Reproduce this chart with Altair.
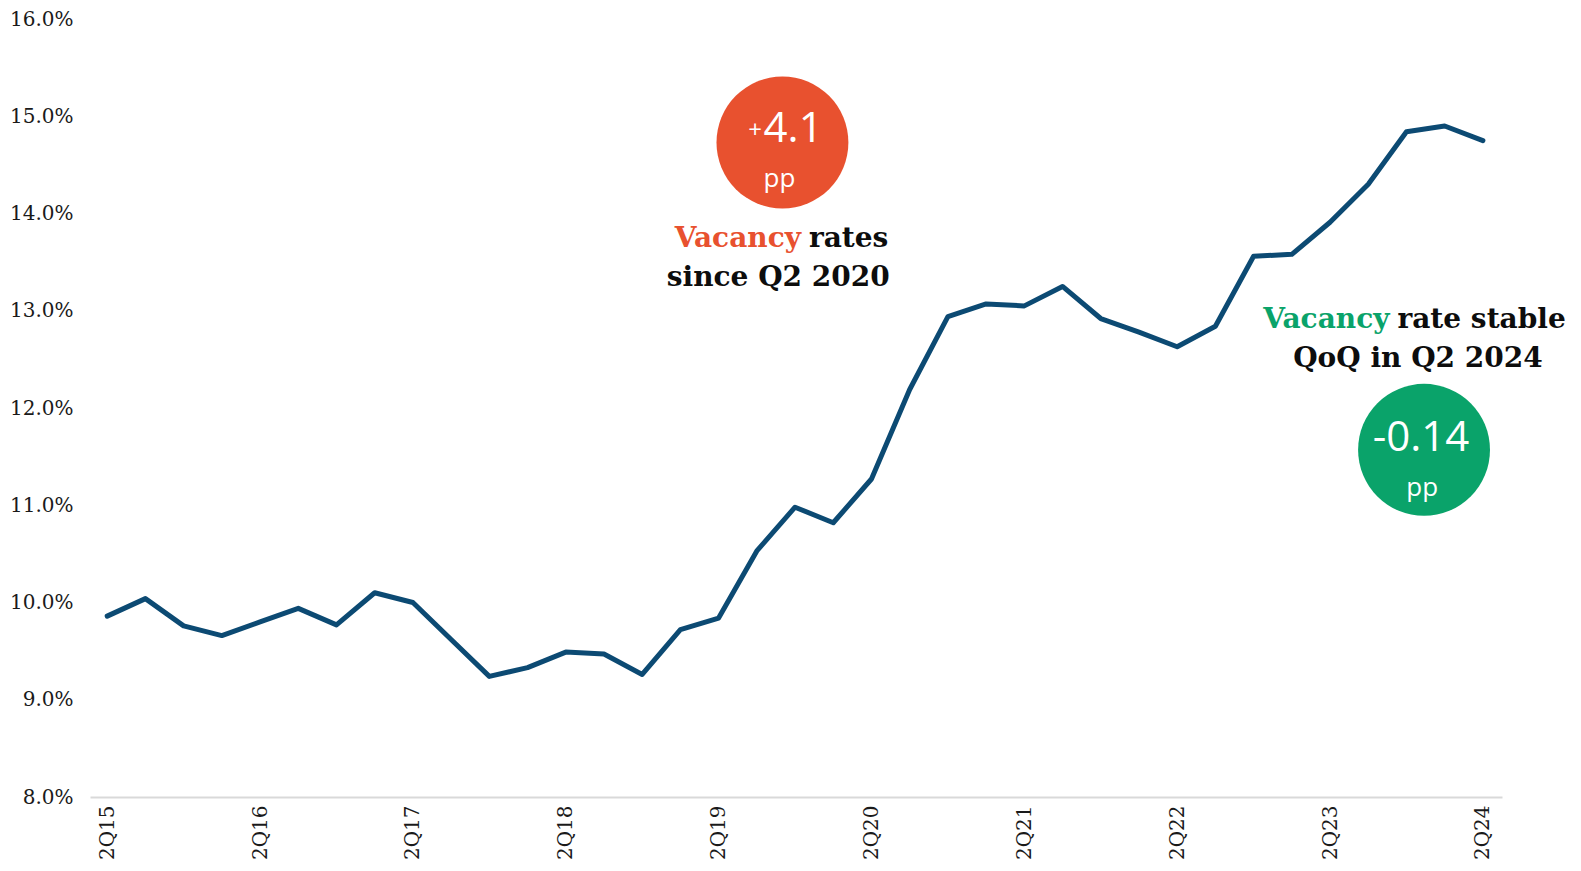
import altair as alt
import pandas as pd

quarters = ["2Q15", "3Q15", "4Q15", "1Q16", "2Q16", "3Q16", "4Q16", "1Q17", "2Q17",
            "3Q17", "4Q17", "1Q18", "2Q18", "3Q18", "4Q18", "1Q19", "2Q19", "3Q19",
            "4Q19", "1Q20", "2Q20", "3Q20", "4Q20", "1Q21", "2Q21", "3Q21", "4Q21",
            "1Q22", "2Q22", "3Q22", "4Q22", "1Q23", "2Q23", "3Q23", "4Q23", "1Q24", "2Q24"]
vacancy = [9.86, 10.04, 9.76, 9.66, 9.80, 9.94, 9.77, 10.10, 10.00,
           9.62, 9.24, 9.33, 9.49, 9.47, 9.26, 9.72, 9.84, 10.53,
           10.98, 10.82, 11.27, 12.19, 12.94, 13.07, 13.05, 13.25, 12.92,
           12.78, 12.63, 12.84, 13.56, 13.58, 13.91, 14.30, 14.84, 14.90, 14.75]
y_ticks = [8, 9, 10, 11, 12, 13, 14, 15, 16]
x_tick_idx = [0, 4, 8, 12, 16, 20, 24, 28, 32, 36]

df = pd.DataFrame({"idx": list(range(len(quarters))), "quarter": quarters, "rate": vacancy})

ORANGE = "#E8512F"
GREEN = "#0AA36A"
LINE = "#0C4A73"
SERIF = "DejaVu Serif"
SANS = "Open Sans"

label_arr = "[" + ",".join("'%s'" % q for q in quarters) + "]"

xscale = alt.Scale(domain=[-0.45, 36.5], nice=False, zero=False)
yscale = alt.Scale(domain=[8, 16], nice=False, zero=False)

line = alt.Chart(df).mark_line(color=LINE, strokeWidth=5, strokeCap="round", strokeJoin="round").encode(
    x=alt.X("idx:Q", scale=xscale,
            axis=alt.Axis(values=x_tick_idx, labelExpr=label_arr + "[datum.value]",
                          labelAngle=270, ticks=False, grid=False,
                          domainColor="#d9d9d9", domainWidth=2,
                          labelFont=SERIF, labelFontSize=20, labelColor="#1a1a1a",
                          labelPadding=8, title=None)),
    y=alt.Y("rate:Q", scale=yscale,
            axis=alt.Axis(values=y_ticks, labelExpr="format(datum.value,'.1f')+'%'",
                          ticks=False, grid=False, domain=False,
                          labelFont=SERIF, labelFontSize=20, labelColor="#1a1a1a",
                          labelPadding=17, title=None)),
)

# annotation anchors (in data units)
circ = pd.DataFrame({"x": [17.67], "y": [14.73]})
circ2 = pd.DataFrame({"x": [34.46], "y": [11.57]})


def pt(x, y, text=""):
    return pd.DataFrame({"x": [x], "y": [y], "t": [text]})


def txt(data, color, size, font, weight="normal", align="center", dx=0):
    return alt.Chart(data).mark_text(color=color, fontSize=size, font=font, fontWeight=weight,
                                     align=align, baseline="middle", dx=dx).encode(
        x=alt.X("x:Q", scale=xscale, title=None),
        y=alt.Y("y:Q", scale=yscale, title=None),
        text="t:N")


def circle(data, color):
    return alt.Chart(data).mark_circle(color=color, opacity=1, size=17400).encode(
        x=alt.X("x:Q", scale=xscale, title=None),
        y=alt.Y("y:Q", scale=yscale, title=None))


layers = [
    line,
    circle(circ, ORANGE),
    txt(pt(17.74, 14.87, "4.1"), "white", 42, SANS, dx=8),
    txt(pt(17.74, 14.85, "+"), "white", 24, SANS, align="right", dx=-23),
    txt(pt(17.59, 14.35, "pp"), "white", 26, SANS),
    txt(pt(18.26, 13.74, "Vacancy"), ORANGE, 28, SERIF, "bold", align="right", dx=-4),
    txt(pt(18.26, 13.74, "rates"), "#0d0d0d", 28, SERIF, "bold", align="left", dx=4),
    txt(pt(17.56, 13.34, "since Q2 2020"), "#0d0d0d", 28, SERIF, "bold"),
    circle(circ2, GREEN),
    txt(pt(34.38, 11.69, "-0.14"), "white", 42, SANS),
    txt(pt(34.41, 11.18, "pp"), "white", 26, SANS),
    txt(pt(33.66, 12.91, "Vacancy"), GREEN, 28, SERIF, "bold", align="right", dx=-4),
    txt(pt(33.66, 12.91, "rate stable"), "#0d0d0d", 28, SERIF, "bold", align="left", dx=4),
    txt(pt(34.30, 12.50, "QoQ in Q2 2024"), "#0d0d0d", 28, SERIF, "bold"),
]

chart = alt.layer(*layers).properties(
    width=1412, height=778,
    padding={"left": 82, "top": 11, "right": 70, "bottom": 62},
    autosize=alt.AutoSizeParams(type="none"),
    background="white",
).configure_view(stroke=None)

chart.save("out.html", embed_options={"renderer": "svg", "actions": False})
